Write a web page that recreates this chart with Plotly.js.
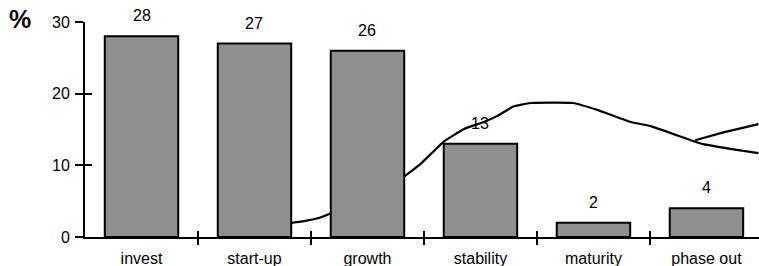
<!DOCTYPE html>
<html>
<head>
<meta charset="utf-8">
<script src="https://cdn.plot.ly/plotly-3.0.1.min.js"></script>
<style>html,body{margin:0;padding:0;background:#fff;}#chart{width:759px;height:266px;}</style>
</head>
<body>
<div id="chart"></div>
<script>
// Categories and bar values (percent)
var categories = ['invest', 'start-up', 'growth', 'stability', 'maturity', 'phase out'];
var shares = [28, 27, 26, 13, 2, 4];
var shareLabels = ['28', '27', '26', '13', '2', '4'];
var yTicks = [0, 10, 20, 30];

// Hand-drawn life-cycle curve (x in category index units, y in %)
var curveX = [1.32, 1.45, 1.57, 1.66, 2.32, 2.47, 2.67, 2.85, 3.03, 3.15, 3.29, 3.44, 3.82, 4.04, 4.33, 4.50, 4.86, 4.97, 5.21, 5.46];
var curveY = [1.95, 2.25, 2.65, 3.2, 8.4, 10.2, 13.25, 15.05, 16.05, 16.9, 18.2, 18.7, 18.7, 17.7, 16.05, 15.5, 13.5, 12.95, 12.3, 11.7];
// Upper branch splitting off near the end
var branchX = [4.90, 5.15, 5.46];
var branchY = [13.5, 14.6, 15.75];

var boundaryTicks = [0.5, 1.5, 2.5, 3.5, 4.5];
var xRange = [-0.5, 5.465];
var yRange = [0, 30];

var font = {family: 'Liberation Sans, Arial, Helvetica, sans-serif', color: '#000'};

var traces = [
  {type: 'scatter', mode: 'lines', x: curveX, y: curveY, xaxis: 'x', yaxis: 'y',
   line: {color: '#000', width: 2.2, shape: 'spline', smoothing: 0.3}, hoverinfo: 'skip'},
  {type: 'scatter', mode: 'lines', x: branchX, y: branchY, xaxis: 'x', yaxis: 'y',
   line: {color: '#000', width: 2.2, shape: 'spline', smoothing: 0.3}, hoverinfo: 'skip'},
  {type: 'bar', x: categories, y: shares, xaxis: 'x2', yaxis: 'y2', width: 0.65,
   marker: {color: '#000', line: {color: '#000', width: 2},
            pattern: {shape: '.', size: 2, solidity: 0.5, fgcolor: '#000', bgcolor: '#fff', fillmode: 'replace'}},
   hoverinfo: 'skip'}
];

var annotations = categories.map(function (c, i) {
  return {x: c, y: shares[i], xref: 'x2', yref: 'y2', text: shareLabels[i], showarrow: false,
          xanchor: 'center', yanchor: 'bottom', yshift: 10, font: Object.assign({size: 16}, font)};
});
annotations.push({x: -0.096, y: 1.014, xref: 'paper', yref: 'paper', text: '<b>%</b>', showarrow: false,
                  xanchor: 'center', yanchor: 'middle', font: Object.assign({size: 25}, font)});

var layout = {
  width: 759, height: 266,
  margin: {l: 85, r: 0, t: 22, b: 29, pad: 0},
  paper_bgcolor: '#fff', plot_bgcolor: 'rgba(0,0,0,0)',
  showlegend: false,
  font: Object.assign({size: 16}, font),
  xaxis: {type: 'linear', range: xRange, showline: true, linecolor: '#000', linewidth: 2,
          ticks: 'outside', ticklen: 6, tickwidth: 2, tickcolor: '#000', tickvals: boundaryTicks,
          showticklabels: false, showgrid: false, zeroline: false, fixedrange: true},
  yaxis: {range: yRange, showline: true, linecolor: '#000', linewidth: 2,
          ticks: 'outside', ticklen: 8, tickwidth: 2, tickcolor: '#000', tickvals: yTicks,
          tickfont: Object.assign({size: 16}, font), ticklabelstandoff: 2,
          showgrid: false, zeroline: false, fixedrange: true},
  xaxis2: {type: 'category', overlaying: 'x', anchor: 'y2', range: xRange, tickson: 'boundaries',
           ticks: 'inside', ticklen: 6, tickwidth: 2, tickcolor: '#000', showline: false,
           ticklabelstandoff: 10,
           showgrid: false, zeroline: false, tickfont: Object.assign({size: 16}, font), fixedrange: true},
  yaxis2: {overlaying: 'y', range: yRange, ticks: 'inside', ticklen: 7, tickwidth: 2, tickcolor: '#000',
           tickvals: yTicks, showticklabels: false, showline: false, showgrid: false, zeroline: false, fixedrange: true},
  annotations: annotations
};

Plotly.newPlot('chart', traces, layout, {displayModeBar: false, staticPlot: true});
</script>
</body>
</html>
